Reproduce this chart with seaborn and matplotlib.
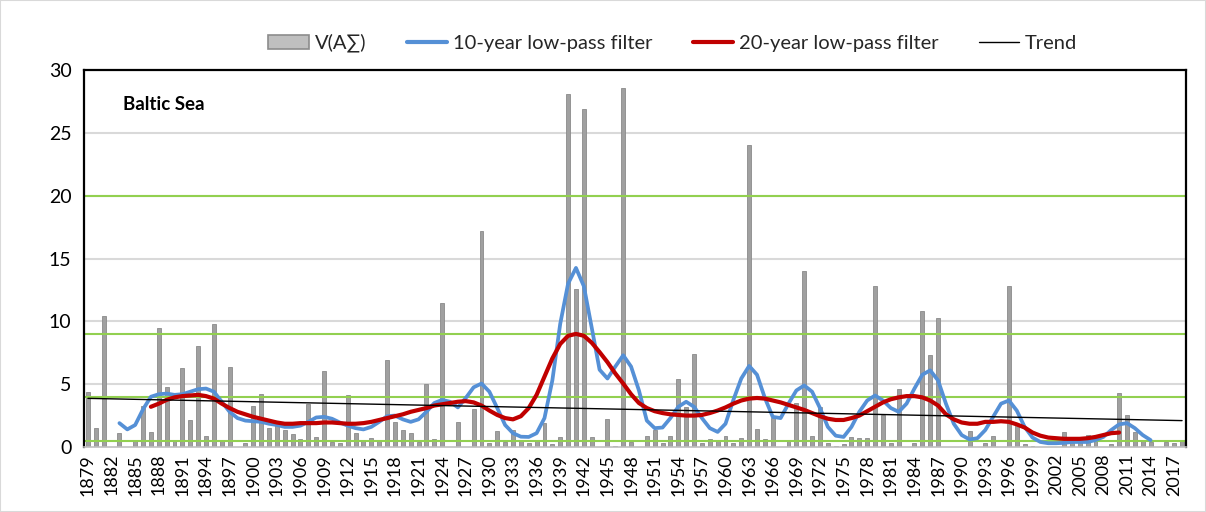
import matplotlib
matplotlib.use("Agg")
import numpy as np
import pandas as pd
import seaborn as sns
import matplotlib.pyplot as plt
from matplotlib.patches import Patch, Rectangle
from matplotlib.lines import Line2D

# ---------------- data ----------------
years = list(range(1879, 2019))
v_values = [
    4.4, 1.5, 10.45, 0, 1.1, 0, 0.5, 3.3, 1.2, 9.45,        # 1879-1888
    4.75, 0.5, 6.25, 2.15, 8.05, 0.9, 9.75, 0.5, 6.35, 0,   # 1889-1898
    0.3, 3.25, 4.2, 1.5, 1.9, 1.35, 1.0, 0.6, 3.4, 0.8,     # 1899-1908
    6.05, 0.4, 0.3, 4.1, 1.1, 0.5, 0.7, 0.45, 6.9, 2.0,     # 1909-1918
    1.35, 1.1, 0.4, 5.05, 0.6, 11.45, 0, 2.0, 0, 3.0,       # 1919-1928
    17.2, 0.3, 1.25, 0.4, 1.35, 0.5, 0.3, 0.45, 1.9, 0.2,   # 1929-1938
    0.8, 28.1, 12.55, 26.9, 0.8, 0, 2.25, 0.1, 28.6, 0.4,   # 1939-1948
    0, 0.9, 1.35, 0.3, 0.9, 5.45, 3.2, 7.4, 0.3, 0.6,       # 1949-1958
    0.45, 0.9, 0.35, 0.7, 24.0, 1.4, 0.6, 2.3, 0, 0.5,      # 1959-1968
    3.5, 14.0, 0.9, 3.2, 0.3, 0.1, 0.2, 0.8, 0.75, 0.7,     # 1969-1978
    12.85, 2.55, 0.3, 4.6, 0, 0.35, 10.85, 7.3, 10.25, 0,   # 1979-1988
    0, 0, 1.25, 0, 0.3, 0.9, 0, 12.85, 1.8, 0.2,            # 1989-1998
    0.1, 0, 0, 0, 1.2, 0.3, 0.4, 0.95, 0.5, 0,              # 1999-2008
    0.2, 4.3, 2.55, 1.2, 0.5, 0.4, 0, 0.4, 0.3, 0.55,       # 2009-2018
]

lp10_years = list(range(1883, 2015))
lp10_values = [
    1.9, 1.4, 1.75, 3.0, 4.0, 4.2, 4.25, 4.15, 4.2, 4.4,     # 1883-1892
    4.6, 4.65, 4.4, 3.6, 2.8, 2.3, 2.1, 2.05, 2.0, 1.85,     # 1893-1902
    1.75, 1.6, 1.6, 1.7, 2.0, 2.35, 2.4, 2.25, 1.95, 1.7,    # 1903-1912
    1.5, 1.4, 1.6, 2.0, 2.45, 2.5, 2.2, 2.0, 2.2, 2.8,       # 1913-1922
    3.5, 3.75, 3.6, 3.15, 3.9, 4.75, 5.05, 4.4, 3.1, 1.75,   # 1923-1932
    1.1, 0.82, 0.8, 1.1, 2.3, 5.3, 9.8, 13.0, 14.25, 12.8,   # 1933-1942
    9.5, 6.15, 5.45, 6.4, 7.3, 6.4, 4.5, 2.1, 1.5, 1.55,     # 1943-1952
    2.3, 3.2, 3.6, 3.2, 2.3, 1.5, 1.2, 1.85, 3.75, 5.45,     # 1953-1962
    6.45, 5.75, 3.9, 2.4, 2.3, 3.45, 4.5, 4.9, 4.4, 3.1,     # 1963-1972
    1.6, 0.9, 0.8, 1.6, 2.8, 3.7, 4.1, 3.7, 3.1, 2.8,        # 1973-1982
    3.45, 4.65, 5.75, 6.1, 5.3, 3.45, 1.85, 0.95, 0.6, 0.7,  # 1983-1992
    1.35, 2.4, 3.45, 3.7, 2.9, 1.6, 0.75, 0.4, 0.3, 0.3,     # 1993-2002
    0.33, 0.4, 0.4, 0.4, 0.55, 0.8, 1.35, 1.8, 1.9, 1.5,     # 2003-2012
    0.95, 0.55,                                              # 2013-2014
]

lp20_years = list(range(1887, 2011))
lp20_values = [
    3.2, 3.45, 3.75, 3.95, 4.05, 4.1, 4.15, 4.05, 3.85, 3.45,   # 1887-1896
    3.1, 2.8, 2.6, 2.4, 2.25, 2.1, 1.95, 1.85, 1.85, 1.9,       # 1897-1906
    1.9, 1.9, 1.95, 1.95, 1.9, 1.85, 1.85, 1.9, 2.0, 2.15,      # 1907-1916
    2.3, 2.45, 2.6, 2.8, 2.95, 3.1, 3.3, 3.4, 3.5, 3.6,         # 1917-1926
    3.65, 3.55, 3.3, 2.9, 2.55, 2.3, 2.2, 2.45, 3.1, 4.15,      # 1927-1936
    5.6, 7.05, 8.2, 8.85, 9.0, 8.85, 8.3, 7.55, 6.75, 5.85,     # 1937-1946
    5.05, 4.2, 3.5, 3.1, 2.85, 2.7, 2.6, 2.55, 2.5, 2.5,        # 1947-1956
    2.55, 2.7, 2.9, 3.15, 3.45, 3.7, 3.85, 3.9, 3.85, 3.7,      # 1957-1966
    3.55, 3.35, 3.15, 2.95, 2.7, 2.45, 2.25, 2.15, 2.15, 2.3,   # 1967-1976
    2.5, 2.85, 3.2, 3.55, 3.8, 3.95, 4.05, 4.05, 3.95, 3.7,     # 1977-1986
    3.3, 2.6, 2.2, 1.95, 1.85, 1.85, 2.0, 2.0, 2.05, 2.0,       # 1987-1996
    1.8, 1.55, 1.15, 0.9, 0.75, 0.7, 0.65, 0.65, 0.65, 0.7,     # 1997-2006
    0.8, 0.95, 1.1, 1.15,                                       # 2007-2010
]

trend_years = [1879, 2018]
trend_values = [3.87, 2.1]

tick_years = list(range(1879, 2018, 3))
y_ticks = [0, 5, 10, 15, 20, 25, 30]
gray_grid_levels = [5, 10, 15, 20, 25]
green_levels = [0.5, 4, 9, 20]
title_text = "Baltic Sea"
legend_labels = ["V(A\u2211)", "10-year low-pass filter", "20-year low-pass filter", "Trend"]

# ---------------- style ----------------
sns.set_theme(style="white")
plt.rcParams["font.family"] = ["Lato", "DejaVu Sans"]

BAR = "#a0a0a0"
BAR_EDGE = "#8a8a8a"
BLUE = "#5590d6"
RED = "#c00000"
GREEN = "#92d050"
GRID = "#d9d9d9"

W, H = 1206, 512
fig = plt.figure(figsize=(W / 100, H / 100), dpi=100)
L, R, T, B = 84, 1186, 70, 447
ax = fig.add_axes([L / W, 1 - B / H, (R - L) / W, (B - T) / H])

for lv in gray_grid_levels:
    ax.axhline(lv, color=GRID, lw=1.5, zorder=0)

df = pd.DataFrame({"year": years, "v": v_values})
sns.barplot(data=df, x="year", y="v", native_scale=True, color=BAR,
            edgecolor=BAR_EDGE, linewidth=0.6, width=0.5, saturation=1,
            ax=ax, zorder=1)

for lv in green_levels:
    ax.axhline(lv, color=GREEN, lw=1.5, zorder=2)

sns.lineplot(x=lp10_years, y=lp10_values, color=BLUE, lw=2.7, ax=ax, zorder=3,
             solid_joinstyle="round", solid_capstyle="round")
sns.lineplot(x=lp20_years, y=lp20_values, color=RED, lw=3.0, ax=ax, zorder=4,
             solid_joinstyle="round", solid_capstyle="round")
sns.lineplot(x=trend_years, y=trend_values, color="black", lw=1.0, ax=ax, zorder=5)

ax.set_xlim(1878.5, 2018.5)
ax.set_ylim(0, 30)
ax.set_xticks(tick_years)
ax.set_xticklabels([str(y) for y in tick_years], rotation=90, fontsize=13)
ax.set_yticks(y_ticks)
ax.set_yticklabels([str(y) for y in y_ticks], fontsize=14)
ax.tick_params(axis="both", length=0, colors="black")
ax.tick_params(axis="x", pad=5)
ax.tick_params(axis="y", pad=9)
ax.set_xlabel("")
ax.set_ylabel("")
ax.grid(False)

for side in ["left", "top", "right"]:
    ax.spines[side].set_color("black")
    ax.spines[side].set_linewidth(1.6)
    ax.spines[side].set_visible(True)
ax.spines["bottom"].set_color("#bfbfbf")
ax.spines["bottom"].set_linewidth(1.2)

ax.text((123 - L) / (R - L), (B - 104) / (B - T), title_text, transform=ax.transAxes,
        fontsize=13.5, fontweight="bold", va="center", ha="left", color="black")

handles = [
    Patch(facecolor="#bfbfbf", edgecolor="#8c8c8c", linewidth=1.2),
    Line2D([], [], color=BLUE, lw=3),
    Line2D([], [], color=RED, lw=3),
    Line2D([], [], color="black", lw=1),
]
fig.legend(handles, legend_labels, loc="center", bbox_to_anchor=(0.558, 0.916),
           ncol=4, frameon=False, fontsize=14.5, handlelength=2.0,
           handletextpad=0.3, columnspacing=2.0)

fig.patches.append(Rectangle((0, 0), 1, 1, transform=fig.transFigure, fill=False,
                             edgecolor="#d9d9d9", lw=1.5))

fig.savefig("out.png", dpi=100)
